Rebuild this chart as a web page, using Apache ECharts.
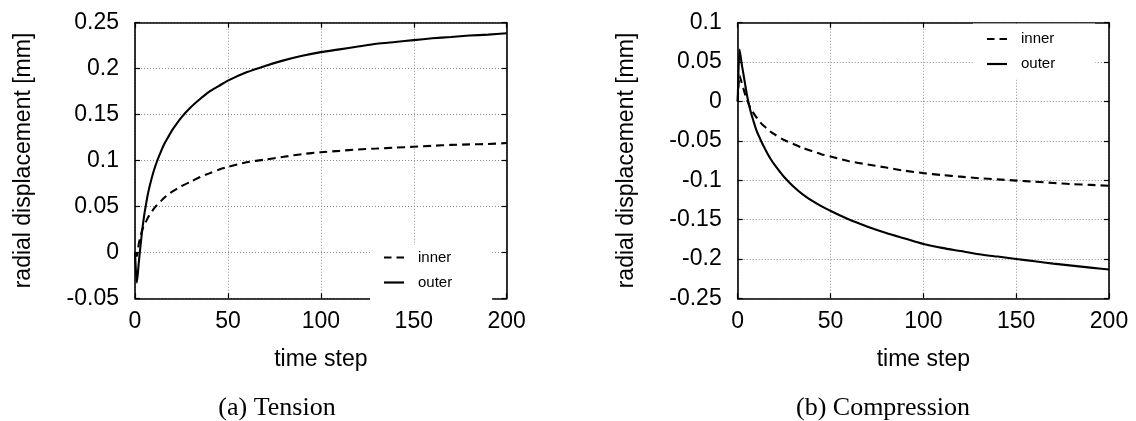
<!DOCTYPE html>
<html>
<head>
<meta charset="utf-8">
<script src="https://cdn.jsdelivr.net/npm/echarts@6/dist/echarts.min.js"></script>
<style>
  html, body { margin: 0; padding: 0; background: #fff; }
  #chart { width: 1136px; height: 421px; }
</style>
</head>
<body>
<div id="chart"></div>
<script>
// Time steps shared by all four curves
const timeSteps = [0, 1, 2, 3, 4, 5, 6, 7, 8, 10, 12, 14, 16, 18, 20, 25, 30, 35, 40, 45, 50, 60, 70, 80, 90, 100, 110, 120, 130, 140, 150, 160, 170, 180, 190, 200];

// (a) Tension: radial displacement [mm]
const tensionInner = [0, -0.004, 0.009, 0.018, 0.025, 0.030, 0.034, 0.038, 0.041, 0.047, 0.052, 0.056, 0.060, 0.063, 0.066, 0.072, 0.077, 0.082, 0.086, 0.090, 0.093, 0.098, 0.101, 0.104, 0.107, 0.109, 0.1105, 0.112, 0.113, 0.114, 0.115, 0.116, 0.117, 0.1175, 0.118, 0.119];
const tensionOuter = [0, -0.033, -0.012, 0.008, 0.026, 0.041, 0.053, 0.064, 0.073, 0.088, 0.100, 0.110, 0.119, 0.126, 0.133, 0.147, 0.158, 0.167, 0.175, 0.181, 0.187, 0.196, 0.203, 0.209, 0.214, 0.218, 0.221, 0.224, 0.227, 0.229, 0.231, 0.233, 0.2345, 0.236, 0.237, 0.2385];

// (b) Compression: radial displacement [mm]
const compressionInner = [0, 0.033, 0.025, 0.017, 0.009, 0.002, -0.004, -0.009, -0.013, -0.020, -0.026, -0.031, -0.035, -0.039, -0.042, -0.049, -0.054, -0.059, -0.063, -0.067, -0.070, -0.076, -0.080, -0.084, -0.088, -0.091, -0.0935, -0.0955, -0.0975, -0.099, -0.1005, -0.102, -0.1035, -0.105, -0.106, -0.107];
const compressionOuter = [0, 0.066, 0.050, 0.036, 0.022, 0.008, -0.003, -0.013, -0.021, -0.036, -0.047, -0.057, -0.066, -0.074, -0.081, -0.096, -0.108, -0.118, -0.126, -0.133, -0.139, -0.150, -0.159, -0.167, -0.174, -0.181, -0.186, -0.190, -0.194, -0.197, -0.200, -0.203, -0.206, -0.2085, -0.211, -0.2135];

const seriesNames = ['inner', 'outer'];
const xTitle = 'time step';
const yTitle = 'radial displacement [mm]';
const captions = ['(a) Tension', '(b) Compression'];

const xRange = { min: 0, max: 200, interval: 50 };
const yRanges = [
  { min: -0.05, max: 0.25, interval: 0.05 },
  { min: -0.25, max: 0.1, interval: 0.05 }
];

const SANS = '"Liberation Sans", Arial, Helvetica, sans-serif';
const SERIF = '"Liberation Serif", "Times New Roman", serif';
const AXIS_FONT = 23;

const pairs = (xs, ys) => xs.map((x, i) => [x, ys[i]]);

const grids = [
  { left: 135, top: 22.7, width: 371.7, height: 275.6 },
  { left: 737.7, top: 22.7, width: 371.3, height: 275.6 }
];

const frameLine = { show: true, onZero: false, lineStyle: { color: '#000', width: 1.6 } };
const gridLine = { show: true, lineStyle: { color: '#8a8a8a', width: 1, type: [1, 2] } };
const innerTick = { show: true, inside: true, length: 5, lineStyle: { color: '#000', width: 1.2 } };

const xAxes = [];
const yAxes = [];
grids.forEach((g, gi) => {
  // bottom axis: labels, grid, title
  xAxes.push({
    type: 'value', gridIndex: gi, position: 'bottom',
    min: xRange.min, max: xRange.max, interval: xRange.interval,
    axisLine: frameLine, axisTick: innerTick,
    axisLabel: { color: '#000', fontFamily: SANS, fontSize: AXIS_FONT, margin: 12 },
    splitLine: gridLine,
    name: xTitle, nameLocation: 'middle', nameGap: 50,
    nameTextStyle: { color: '#000', fontFamily: SANS, fontSize: AXIS_FONT }
  });
  // top mirror axis: frame edge and ticks only
  xAxes.push({
    type: 'value', gridIndex: gi, position: 'top',
    min: xRange.min, max: xRange.max, interval: xRange.interval,
    axisLine: frameLine, axisTick: innerTick,
    axisLabel: { show: false }, splitLine: { show: false }
  });
  const yr = yRanges[gi];
  yAxes.push({
    type: 'value', gridIndex: gi, position: 'left',
    min: yr.min, max: yr.max, interval: yr.interval,
    axisLine: frameLine, axisTick: innerTick,
    axisLabel: {
      color: '#000', fontFamily: SANS, fontSize: AXIS_FONT, margin: 16,
      formatter: v => String(parseFloat(v.toFixed(3)))
    },
    splitLine: gridLine,
    name: yTitle, nameLocation: 'middle', nameGap: 100,
    nameTextStyle: { color: '#000', fontFamily: SANS, fontSize: AXIS_FONT }
  });
  // right mirror axis: frame edge and ticks only
  yAxes.push({
    type: 'value', gridIndex: gi, position: 'right',
    min: yr.min, max: yr.max, interval: yr.interval,
    axisLine: frameLine, axisTick: innerTick,
    axisLabel: { show: false }, splitLine: { show: false }
  });
});

const lineSeries = (name, gi, data, dashed) => ({
  name, type: 'line', xAxisIndex: gi * 2, yAxisIndex: gi * 2,
  data, symbol: 'none', smooth: 0.25,
  lineStyle: { color: '#000', width: 2.1, type: dashed ? [8, 5] : 'solid' },
  itemStyle: { color: '#000' },
  z: 3
});

// legend keys: a dashed and a solid stroke, drawn 20 x 2.2
const legendKeys = [
  { name: seriesNames[0], icon: 'path://M0,0h7.5v2.2h-7.5z M12.5,0h7.5v2.2h-7.5z' },
  { name: seriesNames[1], icon: 'path://M0,0h20v2.2h-20z' }
];

const legendBase = {
  orient: 'vertical', itemWidth: 20, itemHeight: 2.2, itemGap: 8,
  backgroundColor: '#fff', borderWidth: 0, z: 2,
  data: legendKeys,
  selectedMode: false,
  itemStyle: { color: '#000', borderWidth: 0 },
  textStyle: { color: '#000', fontFamily: SANS, fontSize: 15, padding: [0, 0, 0, 9], lineHeight: 17 }
};

const option = {
  animation: false,
  backgroundColor: '#fff',
  grid: grids.map(g => Object.assign({ containLabel: false }, g)),
  xAxis: xAxes,
  yAxis: yAxes,
  legend: [
    Object.assign({}, legendBase, { left: 370, top: 245, padding: [4, 40, 9, 14] }),
    Object.assign({}, legendBase, { left: 973, top: 23.5, padding: [7, 40, 7, 14] })
  ],
  graphic: [
    {
      type: 'text', x: 277, y: 408.5,
      style: { text: captions[0], font: '26px ' + SERIF, fill: '#000', align: 'center', verticalAlign: 'middle' }
    },
    {
      type: 'text', x: 883, y: 408.5,
      style: { text: captions[1], font: '26px ' + SERIF, fill: '#000', align: 'center', verticalAlign: 'middle' }
    }
  ],
  series: [
    lineSeries(seriesNames[0], 0, pairs(timeSteps, tensionInner), true),
    lineSeries(seriesNames[1], 0, pairs(timeSteps, tensionOuter), false),
    lineSeries(seriesNames[0], 1, pairs(timeSteps, compressionInner), true),
    lineSeries(seriesNames[1], 1, pairs(timeSteps, compressionOuter), false)
  ]
};

const chart = echarts.init(document.getElementById('chart'), null, { renderer: 'canvas' });
chart.setOption(option);
</script>
</body>
</html>
